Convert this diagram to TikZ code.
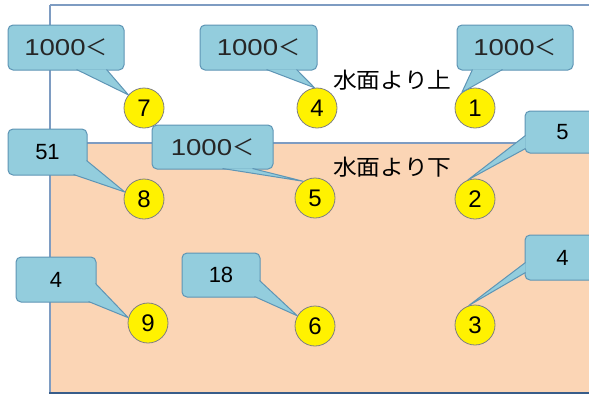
\documentclass[tikz,border=0pt]{standalone}
\usepackage{fontspec}
\usepackage{graphicx}
\setmainfont{Liberation Sans}
\newfontfamily\jp{Noto Sans CJK JP}
\newcommand{\kilo}{\scalebox{1.2}[1]{\fontsize{23pt}{24pt}\selectfont 1000}{\jp\fontsize{22pt}{24pt}\selectfont ＜}}
\newcommand{\wide}[1]{\scalebox{1.08}[1]{#1}}
\usetikzlibrary{calc}
\definecolor{cfill}{HTML}{93CDDD}
\definecolor{cdraw}{HTML}{5E95B5}
\definecolor{peach}{HTML}{FBD5B5}
\definecolor{frameblue}{HTML}{7E9CC2}
\definecolor{framedark}{HTML}{385D8A}
\tikzset{
  cbox/.style={rounded corners=5pt, fill=cfill, draw=cdraw, line width=1pt, inner sep=0pt},
  ctail/.style={fill=cfill, draw=cdraw, line width=1pt, line join=round},
  num/.style={circle, fill=yellow, draw=gray, line width=0.8pt, minimum size=40pt, inner sep=0pt,
    font=\fontsize{24pt}{24pt}\selectfont},
  big/.style={text=black!85, xshift=-2pt},
  small/.style={font=\fontsize{22pt}{24pt}\selectfont},
  lbl/.style={font=\jp\fontsize{22pt}{24pt}\selectfont, anchor=west, inner sep=0pt}
}
\begin{document}
\begin{tikzpicture}[x=1pt,y=-1pt]
\fill[white] (0,0) rectangle (589,397);
\useasboundingbox (0,0) rectangle (589,397);
% frame
\fill[peach] (50,143) rectangle (600,393);
\draw[frameblue, line width=1.2pt] (50,5) -- (600,5);
\draw[frameblue, line width=1.2pt] (50,5) -- (50,393);
\draw[frameblue, line width=1.2pt] (50,143) -- (600,143);
\draw[framedark, line width=2pt] (49,393) -- (600,393);
% circles
\node[num] (c7) at (144,108) {7};
\node[num] (c4) at (317,108) {4};
\node[num] (c1) at (475,108) {1};
\node[num] (c8) at (144,199) {8};
\node[num] (c5) at (315,198) {5};
\node[num] (c2) at (475,199) {2};
\node[num] (c9) at (148,323) {9};
\node[num] (c6) at (315,326) {6};
\node[num] (c3) at (475,325) {3};
% labels
\node[lbl] (up) at (333,80) {\wide{水面より上}};
\node[lbl] (down) at (333,167) {\wide{水面より下}};
% callouts
\node[cbox, big, minimum width=116pt, minimum height=45pt] (b7) at (68,47.5) {\kilo};
\path[ctail] ($(b7.south west)+(69,-1)$) -- (c7.140) -- ($(b7.south west)+(99,-1)$);
\node[cbox, big, minimum width=117pt, minimum height=45pt] (b4) at (260.5,47.5) {\kilo};
\path[ctail] ($(b4.south west)+(67,-1)$) -- (c4.97) -- ($(b4.south west)+(97,-1)$);
\node[cbox, big, minimum width=116pt, minimum height=45pt] (b1) at (517,47.5) {\kilo};
\path[ctail] ($(b1.south west)+(16,-1)$) -- (c1.130) -- ($(b1.south west)+(46,-1)$);
\node[cbox, small, minimum width=79pt, minimum height=46pt] (b8) at (47.5,152) {51};
\path[ctail] ($(b8.south east)+(-1,-15)$) -- (c8.160) -- ($(b8.south east)+(-14,-1)$);
\node[cbox, big, minimum width=121pt, minimum height=44pt] (b5) at (214.5,147) {\kilo};
\path[ctail] ($(b5.south west)+(71,-1)$) -- (c5.125) -- ($(b5.south west)+(101,-1)$);
\node[cbox, small, minimum width=75pt, minimum height=42pt] (b2) at (562.5,132) {5};
\path[ctail] ($(b2.north west)+(1,25)$) -- (c2.110) -- ($(b2.north west)+(1,38)$);
\node[cbox, small, minimum width=80pt, minimum height=45pt] (b9) at (56,279.5) {4};
\path[ctail] ($(b9.south east)+(-1,-19)$) -- (c9.165) -- ($(b9.south east)+(-8,-1)$);
\node[cbox, small, minimum width=78pt, minimum height=44pt] (b6) at (221,275) {18};
\path[ctail] ($(b6.south east)+(-1,-17)$) -- (c6.150) -- ($(b6.south east)+(-6,-1)$);
\node[cbox, small, minimum width=75pt, minimum height=45pt] (b3) at (562.5,257.5) {4};
\path[ctail] ($(b3.north west)+(1,28)$) -- (c3.108) -- ($(b3.north west)+(1,38)$);
\end{tikzpicture}
\end{document}
